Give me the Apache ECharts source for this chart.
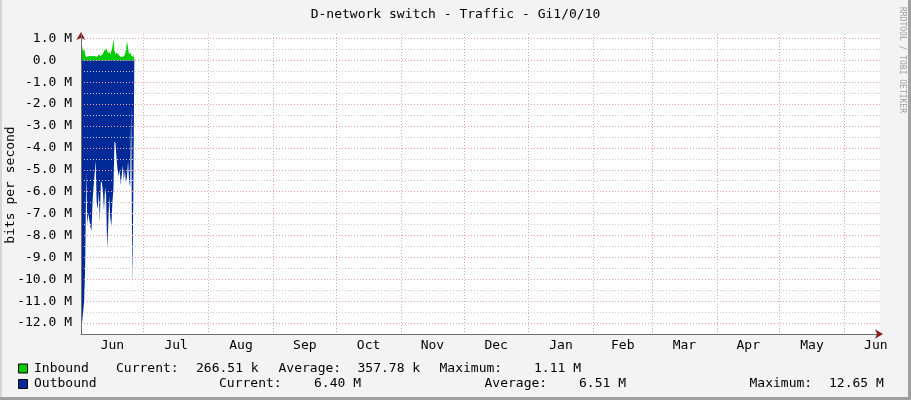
<!DOCTYPE html>
<html><head><meta charset="utf-8">
<script src="https://cdn.jsdelivr.net/npm/echarts@6/dist/echarts.min.js"></script>
<style>html,body{margin:0;padding:0;background:#f3f3f3}#c{width:911px;height:400px}</style>
</head><body><div id="c"></div>
<script>
// ---------- data ----------
const chartTitle = 'D-network switch - Traffic - Gi1/0/10';
const yAxisTitle = 'bits per second';
const sideNote = 'RRDTOOL / TOBI OETIKER';
// samples every 12 hours, starting Jun 1 (day 0)
const sampleStartDay = 0;
const sampleStepDays = 0.5;
// Inbound, Mbit/s
const inboundMbps = [1.1,0.65,0.4,0.55,0.28,0.15,0.2,0.18,0.22,0.2,0.15,0.18,0.22,0.2,0.18,0.15,0.2,0.25,0.18,0.2,
  0.25,0.3,0.42,0.35,0.55,0.45,0.3,0.42,0.25,0.3,0.6,0.95,0.45,0.25,0.35,0.4,0.25,0.2,0.15,0.18,
  0.15,0.2,0.25,0.5,0.88,0.55,0.25,0.38,0.25,0.15,0.25,0.27];
// Outbound, Mbit/s (drawn below zero)
const outboundMbps = [12.65,12.0,11.5,11.0,9.4,5.1,7.5,7.0,7.3,7.6,7.8,6.5,5.8,5.2,4.6,6.5,6.8,6.0,7.4,5.5,
  5.6,6.0,6.9,5.8,6.2,8.6,7.6,6.2,7.2,7.6,6.5,5.9,3.7,3.8,4.5,5.0,5.3,5.0,5.7,5.2,
  4.8,5.5,5.0,5.6,5.3,4.6,5.5,5.8,2.1,10.2,6.4,6.4];
// x axis: days since Jun 1
const axisDaysMax = 382;
const monthStartDays = [30,61,92,122,153,183,214,245,273,304,334,365];
const monthLabelDays = [15,45.5,76.5,107,137.5,168,198.5,229.5,259,288.5,319,349.5,380];
const monthLabels = ['Jun','Jul','Aug','Sep','Oct','Nov','Dec','Jan','Feb','Mar','Apr','May','Jun'];
// y axis, Mbit/s
const yMin = -12.5, yMax = 1.2;
const yMajorTicks = [-12,-11,-10,-9,-8,-7,-6,-5,-4,-3,-2,-1,0,1];
const yMinorTicks = [-12.5,-11.5,-10.5,-9.5,-8.5,-7.5,-6.5,-5.5,-4.5,-3.5,-2.5,-1.5,-0.5,0.5];
// legend
const legendNames = ['Inbound','Outbound'];
const legendColors = ['#00cc00','#002a97'];
const legendCurrent = ['266.51 k','6.40 M'];
const legendAverage = ['357.78 k','6.51 M'];
const legendMaximum = ['1.11 M','12.65 M'];

// ---------- chart ----------
const MONO = "'DejaVu Sans Mono', 'Liberation Mono', monospace";
const inData = inboundMbps.map((v,i)=>[sampleStartDay + i*sampleStepDays, v]);
const outData = outboundMbps.map((v,i)=>[sampleStartDay + i*sampleStepDays, -v]);

function txt(x, y, s, extra) {
  return Object.assign({type:'text', x:x, y:y, silent:true,
    style:{text:s, font:'13px ' + MONO, fill:'#000', verticalAlign:'middle', align:'left'}}, extra||{});
}
const rowY = [368.5, 384];
const rowCols = [
  {cur:116, curV:196, avg:278.5, avgV:357.5, max:439.5, maxV:534},
  {cur:219, curV:314, avg:484.5, avgV:579, max:749.5, maxV:829}
];
const graphics = [
  {type:'rect', shape:{x:908,y:0,width:3,height:400}, style:{fill:'#a0a0a0'}, silent:true},
  {type:'rect', shape:{x:0,y:397,width:911,height:3}, style:{fill:'#a0a0a0'}, silent:true},
  {type:'rect', shape:{x:0,y:0,width:2,height:397}, style:{fill:'#d6d6d6'}, silent:true},
  {type:'text', x:902, y:60, rotation:-Math.PI/2, silent:true,
    style:{text:sideNote, font:'8px ' + MONO, fill:'#a0a0a0', align:'center', verticalAlign:'middle'}},
  {type:'text', x:11, y:185, rotation:Math.PI/2, silent:true,
    style:{text:yAxisTitle, font:'13px ' + MONO, fill:'#000', align:'center', verticalAlign:'middle'}}
];
legendNames.forEach((n,i)=>{
  const y = rowY[i], c = rowCols[i];
  graphics.push({type:'rect', shape:{x:18.5,y:y-4.5,width:9,height:9}, style:{fill:legendColors[i], stroke:'#000', lineWidth:1}, silent:true});
  graphics.push(txt(34, y, n));
  graphics.push(txt(c.cur, y, 'Current:'));
  graphics.push(txt(c.curV, y, legendCurrent[i]));
  graphics.push(txt(c.avg, y, 'Average:'));
  graphics.push(txt(c.avgV, y, legendAverage[i]));
  graphics.push(txt(c.max, y, 'Maximum:'));
  graphics.push(txt(c.maxV, y, legendMaximum[i]));
});

const majorGrid = {color:'#e4a4a4', width:1, type:[1,2]};
const minorGrid = {color:'#cccccc', width:1, type:[1,2]};
const axisGray = '#6e6e6e';
const arrowRed = '#8b1e1e';

const option = {
  backgroundColor:'#f3f3f3',
  animation:false,
  title:{text:chartTitle, left:'center', top:8, padding:0,
    textStyle:{fontFamily:MONO, fontSize:13, fontWeight:'normal', color:'#000'}},
  grid:{left:81, top:34, width:799, height:300, show:true, backgroundColor:'#ffffff', borderWidth:0,
    containLabel:false, outerBoundsMode:'none'},
  xAxis:[
    {type:'value', min:0, max:axisDaysMax, position:'bottom', z:3,
      axisLine:{onZero:false, lineStyle:{color:axisGray}},
      axisTick:{show:false, customValues:monthStartDays},
      splitLine:{show:true, lineStyle:majorGrid},
      axisLabel:{customValues:monthLabelDays, margin:5, fontFamily:MONO, fontSize:13, color:'#000',
        formatter:v=>monthLabels[monthLabelDays.indexOf(v)]}},
    {type:'value', min:0, max:axisDaysMax, position:'bottom', z:4,
      axisLine:{show:true, onZero:false, symbol:['none','arrow'], symbolSize:[7,8], symbolOffset:[0,3],
        lineStyle:{color:arrowRed, width:0}},
      axisTick:{show:false}, axisLabel:{show:false}, splitLine:{show:false}}
  ],
  yAxis:[
    {type:'value', min:yMin, max:yMax, position:'left', z:3,
      axisLine:{onZero:false, lineStyle:{color:axisGray}},
      axisTick:{show:false, customValues:yMajorTicks},
      splitLine:{show:true, lineStyle:majorGrid},
      axisLabel:{customValues:yMajorTicks, margin:9, fontFamily:MONO, fontSize:13, color:'#000',
        formatter:v=> v===0 ? '0.0  ' : v.toFixed(1) + ' M'}},
    {type:'value', min:yMin, max:yMax, position:'left', offset:0, z:2.5,
      axisLine:{show:true, onZero:false, symbol:['none','arrow'], symbolSize:[7,8], symbolOffset:[0,2],
        lineStyle:{color:arrowRed, width:0}},
      axisTick:{show:false, customValues:yMinorTicks},
      axisLabel:{show:false},
      splitLine:{show:true, lineStyle:minorGrid}}
  ],
  series:[
    {name:'Outbound', type:'line', xAxisIndex:0, yAxisIndex:0, data:outData, symbol:'none', z:1,
      lineStyle:{width:0}, areaStyle:{color:legendColors[1], opacity:1}},
    {name:'Inbound', type:'line', xAxisIndex:0, yAxisIndex:0, data:inData, symbol:'none', z:1,
      lineStyle:{width:0}, areaStyle:{color:legendColors[0], opacity:1}}
  ],
  graphic:graphics
};
const chart = echarts.init(document.getElementById('c'), null, {renderer:'canvas'});
chart.setOption(option);
</script></body></html>
